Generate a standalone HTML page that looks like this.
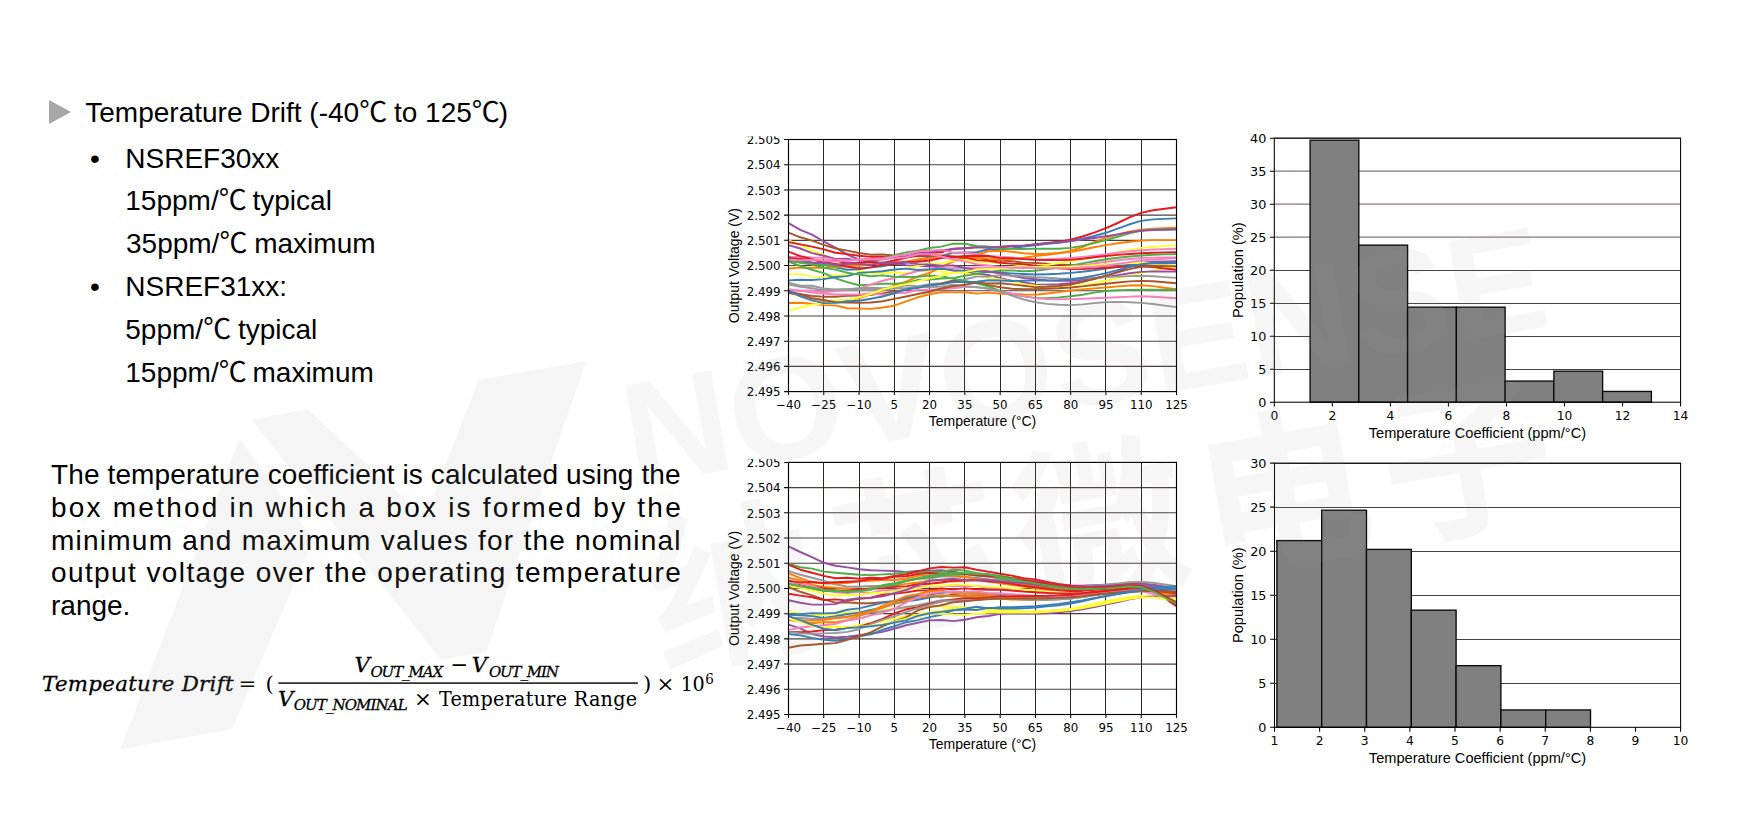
<!DOCTYPE html>
<html lang="en">
<head>
<meta charset="utf-8">
<title>Temperature Drift</title>
<style>
html,body{margin:0;padding:0;background:#fff;}
body{width:1745px;height:826px;position:relative;overflow:hidden;font-family:"Liberation Sans","Noto Sans CJK SC",sans-serif;color:#000;}
.abs{position:absolute;white-space:nowrap;}
.t20{font-size:28px;line-height:32px;}
svg{position:absolute;left:0;top:0;overflow:hidden;}
.tk{font-family:"DejaVu Sans",sans-serif;fill:#000;}
.ax{font-family:"Liberation Sans",sans-serif;fill:#000;}
.m{font-family:"DejaVu Serif","Liberation Serif",serif;fill:#000;}
.mc{font-family:"DejaVu Serif Condensed","DejaVu Serif","Liberation Serif",serif;font-stretch:condensed;fill:#000;}
.mi{font-family:"DejaVu Serif","Liberation Serif",serif;font-style:italic;fill:#000;stroke:#000;stroke-width:0.3px;}
</style>
</head>
<body>

<div class="abs" style="left:49px;top:100px;width:0;height:0;border-left:22.5px solid #a6a6a6;border-top:12.6px solid transparent;border-bottom:12.6px solid transparent;"></div>
<div class="abs t20" style="left:85.3px;top:97.00px;">Temperature Drift (-40<span style="letter-spacing:-1px">℃</span> to 125<span style="letter-spacing:-1px">℃</span>)</div>
<div class="abs t20" style="left:90px;top:143.00px;">•</div>
<div class="abs t20" style="left:125.3px;top:143.00px;">NSREF30xx</div>
<div class="abs t20" style="left:125.3px;top:185.00px;">15ppm/<span style="letter-spacing:-2px">℃</span> typical</div>
<div class="abs t20" style="left:126px;top:228.00px;">35ppm/<span style="letter-spacing:-1px">℃</span> maximum</div>
<div class="abs t20" style="left:90px;top:271.00px;">•</div>
<div class="abs t20" style="left:125.3px;top:271.00px;">NSREF31xx:</div>
<div class="abs t20" style="left:125.3px;top:314.00px;">5ppm/<span style="letter-spacing:-1px">℃</span> typical</div>
<div class="abs t20" style="left:125.3px;top:357.00px;">15ppm/<span style="letter-spacing:-2px">℃</span> maximum</div>
<div class="abs t20" style="left:51px;top:459.00px;letter-spacing:0.12px;">The temperature coefficient is calculated using the</div>
<div class="abs t20" style="left:51px;top:492.00px;letter-spacing:2.225px;">box method in which a box is formed by the</div>
<div class="abs t20" style="left:51px;top:525.00px;letter-spacing:1.235px;">minimum and maximum values for the nominal</div>
<div class="abs t20" style="left:51px;top:557.00px;letter-spacing:1.4px;">output voltage over the operating temperature</div>
<div class="abs t20" style="left:51px;top:590.00px;">range.</div>
<svg width="1745" height="826" viewBox="0 0 1745 826">
<text class="mi" x="42.0" y="690.5" font-size="21.3" textLength="191.5" lengthAdjust="spacing">Tempeature Drift</text>
<text class="m" x="238.5" y="690.5" font-size="21.3">=</text>
<text class="m" x="265.6" y="690.5" font-size="21.3">(</text>
<rect x="278.3" y="682.4" width="359.6" height="1.4" fill="#000"/>
<text class="mi" x="354.6" y="672.3" font-size="21.3">V</text>
<text class="mi" x="370.4" y="676.6" font-size="15.0" textLength="72.7" lengthAdjust="spacing">OUT_MAX</text>
<text class="m" x="450.5" y="672.3" font-size="21.3">−</text>
<text class="mi" x="471.8" y="672.3" font-size="21.3">V</text>
<text class="mi" x="488.9" y="676.6" font-size="15.0" textLength="70" lengthAdjust="spacing">OUT_MIN</text>
<text class="mi" x="277.9" y="706" font-size="21.3">V</text>
<text class="mi" x="293.7" y="710.3" font-size="15.0" textLength="113.9" lengthAdjust="spacing">OUT_NOMINAL</text>
<text class="m" x="414.0" y="706" font-size="21.3">×</text>
<text class="mc" x="439.1" y="706" font-size="21.3" textLength="198" lengthAdjust="spacing">Temperature Range</text>
<text class="m" x="642.9" y="690.5" font-size="21.3">)</text>
<text class="m" x="656.5" y="690.5" font-size="21.3">×</text>
<text class="mc" x="680.8" y="690.5" font-size="21.3" textLength="24" lengthAdjust="spacing">10</text>
<text class="mc" x="705.3" y="684.3" font-size="15.0">6</text>
</svg>
<svg width="1745" height="826" viewBox="0 0 1745 826">
<defs>
<clipPath id="top1"><rect x="700" y="136.3" width="1045" height="320"/></clipPath>
<clipPath id="top2"><rect x="700" y="459.1" width="1045" height="340"/></clipPath>
<clipPath id="clip1"><rect x="788.5" y="139.6" width="388.1" height="252.1"/></clipPath>
<clipPath id="clip2"><rect x="788.5" y="462.3" width="388.1" height="252.2"/></clipPath>
</defs>
<g clip-path="url(#top1)">
<path d="M788.50 164.71H1176.50M788.50 189.92H1176.50M788.50 215.13H1176.50M788.50 240.34H1176.50M788.50 265.55H1176.50M788.50 290.76H1176.50M788.50 315.97H1176.50M788.50 341.18H1176.50M788.50 366.39H1176.50" stroke="#4a403e" stroke-width="1.1" fill="none"/>
<path d="M823.50 139.50V391.60M859.50 139.50V391.60M894.50 139.50V391.60M929.50 139.50V391.60M964.50 139.50V391.60M1000.50 139.50V391.60M1035.50 139.50V391.60M1070.50 139.50V391.60M1105.50 139.50V391.60M1141.50 139.50V391.60" stroke="#2e2725" stroke-width="1" fill="none"/>
<g fill="none" stroke-width="1.95" stroke-linejoin="round" stroke-linecap="butt" clip-path="url(#clip1)">
<polyline points="788.5,223.1 800.3,229.8 812.0,234.7 823.8,241.5 835.5,247.6 847.3,254.6 859.0,259.6 870.8,261.6 882.6,263.4 894.3,263.1 906.1,265.1 917.8,266.0 929.6,266.4 941.3,267.2 953.1,270.7 964.9,272.1 976.6,273.6 988.4,275.0 1000.1,278.1 1011.9,280.6 1023.7,282.2 1035.4,284.4 1047.2,284.6 1058.9,284.3 1070.7,283.2 1082.4,281.4 1094.2,279.0 1106.0,275.9 1117.7,271.6 1129.5,266.7 1141.2,263.0 1153.0,261.6 1164.7,261.4 1176.5,261.3" stroke="#984ea3"/>
<polyline points="788.5,232.7 800.3,237.3 812.0,240.6 823.8,244.9 835.5,248.5 847.3,250.6 859.0,253.0 870.8,254.8 882.6,254.5 894.3,255.5 906.1,256.7 917.8,256.1 929.6,256.5 941.3,255.8 953.1,256.3 964.9,257.4 976.6,257.1 988.4,260.2 1000.1,260.5 1011.9,261.2 1023.7,262.6 1035.4,263.0 1047.2,263.8 1058.9,264.5 1070.7,265.0 1082.4,265.3 1094.2,265.5 1106.0,265.6 1117.7,265.6 1129.5,265.5 1141.2,265.6 1153.0,265.7 1164.7,266.0 1176.5,266.3" stroke="#a65628"/>
<polyline points="788.5,240.4 800.3,244.8 812.0,251.0 823.8,254.8 835.5,260.4 847.3,265.6 859.0,270.8 870.8,273.3 882.6,273.2 894.3,272.5 906.1,273.1 917.8,271.1 929.6,270.9 941.3,271.8 953.1,272.8 964.9,272.9 976.6,275.8 988.4,277.7 1000.1,279.5 1011.9,281.3 1023.7,284.4 1035.4,285.7 1047.2,286.8 1058.9,287.3 1070.7,287.0 1082.4,285.5 1094.2,283.2 1106.0,280.7 1117.7,278.2 1129.5,275.7 1141.2,273.1 1153.0,270.6 1164.7,268.1 1176.5,265.6" stroke="#ffff33"/>
<polyline points="788.5,242.1 800.3,244.4 812.0,246.6 823.8,249.4 835.5,252.7 847.3,254.1 859.0,255.8 870.8,256.9 882.6,256.9 894.3,257.8 906.1,256.8 917.8,254.6 929.6,252.8 941.3,252.3 953.1,248.8 964.9,248.2 976.6,247.0 988.4,246.9 1000.1,247.2 1011.9,246.4 1023.7,245.7 1035.4,244.1 1047.2,243.0 1058.9,241.7 1070.7,239.6 1082.4,236.5 1094.2,232.6 1106.0,228.2 1117.7,223.0 1129.5,217.4 1141.2,212.9 1153.0,210.3 1164.7,208.8 1176.5,207.3" stroke="#e41a1c"/>
<polyline points="788.5,256.4 800.3,260.1 812.0,262.6 823.8,264.7 835.5,267.2 847.3,269.7 859.0,269.3 870.8,267.4 882.6,266.3 894.3,263.8 906.1,262.5 917.8,260.2 929.6,257.4 941.3,255.9 953.1,252.9 964.9,252.5 976.6,252.2 988.4,249.3 1000.1,249.4 1011.9,248.4 1023.7,246.6 1035.4,245.3 1047.2,243.9 1058.9,242.7 1070.7,241.1 1082.4,238.8 1094.2,236.0 1106.0,232.8 1117.7,228.7 1129.5,224.3 1141.2,220.9 1153.0,219.4 1164.7,218.9 1176.5,218.4" stroke="#377eb8"/>
<polyline points="788.5,268.5 800.3,267.5 812.0,267.7 823.8,267.8 835.5,266.7 847.3,266.0 859.0,265.8 870.8,264.3 882.6,263.4 894.3,262.2 906.1,261.4 917.8,259.5 929.6,258.2 941.3,257.2 953.1,256.7 964.9,258.0 976.6,257.7 988.4,258.4 1000.1,259.6 1011.9,259.1 1023.7,257.8 1035.4,256.1 1047.2,254.7 1058.9,253.3 1070.7,250.9 1082.4,247.0 1094.2,242.1 1106.0,237.8 1117.7,234.5 1129.5,231.8 1141.2,229.8 1153.0,228.6 1164.7,228.2 1176.5,227.7" stroke="#ff7f00"/>
<polyline points="788.5,258.5 800.3,261.3 812.0,264.4 823.8,265.0 835.5,266.0 847.3,264.4 859.0,263.4 870.8,261.8 882.6,258.9 894.3,255.3 906.1,252.4 917.8,250.8 929.6,248.0 941.3,246.6 953.1,243.6 964.9,243.8 976.6,246.0 988.4,246.4 1000.1,248.5 1011.9,248.9 1023.7,249.0 1035.4,248.6 1047.2,248.7 1058.9,248.7 1070.7,247.9 1082.4,245.9 1094.2,243.1 1106.0,240.1 1117.7,236.7 1129.5,233.2 1141.2,230.5 1153.0,229.4 1164.7,229.2 1176.5,229.0" stroke="#4daf4a"/>
<polyline points="788.5,245.1 800.3,248.5 812.0,253.1 823.8,255.8 835.5,258.9 847.3,258.7 859.0,260.6 870.8,260.4 882.6,259.2 894.3,257.6 906.1,256.4 917.8,253.2 929.6,252.2 941.3,250.5 953.1,249.0 964.9,248.3 976.6,247.4 988.4,247.7 1000.1,246.8 1011.9,245.7 1023.7,245.6 1035.4,244.4 1047.2,243.4 1058.9,242.3 1070.7,241.1 1082.4,239.6 1094.2,238.0 1106.0,236.3 1117.7,234.4 1129.5,232.3 1141.2,230.8 1153.0,230.0 1164.7,229.8 1176.5,229.5" stroke="#984ea3"/>
<polyline points="788.5,293.0 800.3,295.4 812.0,298.1 823.8,300.9 835.5,300.9 847.3,300.3 859.0,298.3 870.8,294.4 882.6,290.4 894.3,285.7 906.1,281.7 917.8,276.5 929.6,272.9 941.3,267.1 953.1,261.5 964.9,258.2 976.6,254.5 988.4,251.2 1000.1,250.8 1011.9,251.8 1023.7,253.3 1035.4,254.0 1047.2,253.7 1058.9,253.0 1070.7,251.7 1082.4,249.7 1094.2,247.3 1106.0,245.1 1117.7,243.3 1129.5,241.7 1141.2,240.6 1153.0,240.1 1164.7,240.1 1176.5,240.1" stroke="#ff7f00"/>
<polyline points="788.5,274.1 800.3,274.1 812.0,276.6 823.8,276.9 835.5,275.3 847.3,274.4 859.0,274.2 870.8,272.7 882.6,271.1 894.3,269.7 906.1,268.4 917.8,266.0 929.6,263.6 941.3,263.3 953.1,260.8 964.9,260.3 976.6,261.8 988.4,262.3 1000.1,263.0 1011.9,264.1 1023.7,265.7 1035.4,265.4 1047.2,264.7 1058.9,263.1 1070.7,261.3 1082.4,259.3 1094.2,257.0 1106.0,254.7 1117.7,252.3 1129.5,249.9 1141.2,247.9 1153.0,246.7 1164.7,246.1 1176.5,245.4" stroke="#ffff33"/>
<polyline points="788.5,257.5 800.3,256.5 812.0,257.5 823.8,257.8 835.5,259.7 847.3,260.7 859.0,259.8 870.8,259.6 882.6,259.2 894.3,256.3 906.1,254.2 917.8,251.3 929.6,250.8 941.3,249.8 953.1,252.7 964.9,252.6 976.6,254.3 988.4,255.9 1000.1,256.7 1011.9,257.4 1023.7,259.0 1035.4,259.4 1047.2,259.2 1058.9,258.7 1070.7,258.0 1082.4,256.9 1094.2,255.6 1106.0,254.2 1117.7,252.8 1129.5,251.3 1141.2,250.2 1153.0,249.5 1164.7,249.1 1176.5,248.7" stroke="#f781bf"/>
<polyline points="788.5,251.6 800.3,256.1 812.0,259.2 823.8,262.2 835.5,264.0 847.3,266.8 859.0,268.4 870.8,267.4 882.6,264.5 894.3,264.1 906.1,261.9 917.8,261.8 929.6,260.5 941.3,258.1 953.1,257.3 964.9,256.0 976.6,255.7 988.4,256.0 1000.1,258.1 1011.9,258.3 1023.7,259.1 1035.4,259.7 1047.2,260.0 1058.9,260.1 1070.7,259.8 1082.4,258.7 1094.2,257.3 1106.0,256.0 1117.7,254.9 1129.5,254.0 1141.2,253.2 1153.0,252.7 1164.7,252.5 1176.5,252.2" stroke="#e41a1c"/>
<polyline points="788.5,261.7 800.3,266.0 812.0,269.7 823.8,273.1 835.5,278.3 847.3,282.1 859.0,285.2 870.8,284.6 882.6,283.8 894.3,283.7 906.1,283.1 917.8,279.9 929.6,279.6 941.3,278.5 953.1,278.1 964.9,275.7 976.6,273.9 988.4,271.9 1000.1,270.7 1011.9,270.4 1023.7,271.3 1035.4,270.7 1047.2,269.3 1058.9,267.5 1070.7,265.6 1082.4,263.4 1094.2,261.2 1106.0,259.2 1117.7,257.7 1129.5,256.5 1141.2,255.5 1153.0,254.8 1164.7,254.4 1176.5,254.0" stroke="#4daf4a"/>
<polyline points="788.5,289.3 800.3,290.8 812.0,290.5 823.8,292.3 835.5,291.0 847.3,289.9 859.0,288.7 870.8,284.5 882.6,280.8 894.3,278.0 906.1,274.3 917.8,271.0 929.6,269.7 941.3,268.2 953.1,268.1 964.9,267.8 976.6,267.5 988.4,267.7 1000.1,268.5 1011.9,268.1 1023.7,268.1 1035.4,268.0 1047.2,267.8 1058.9,267.5 1070.7,266.8 1082.4,265.4 1094.2,263.5 1106.0,261.8 1117.7,260.3 1129.5,259.0 1141.2,258.0 1153.0,257.6 1164.7,257.5 1176.5,257.5" stroke="#f781bf"/>
<polyline points="788.5,280.4 800.3,279.8 812.0,280.0 823.8,279.1 835.5,277.0 847.3,276.1 859.0,272.9 870.8,272.1 882.6,271.2 894.3,269.5 906.1,268.6 917.8,270.0 929.6,269.4 941.3,268.7 953.1,270.1 964.9,270.7 976.6,271.3 988.4,271.7 1000.1,272.8 1011.9,273.4 1023.7,274.0 1035.4,274.5 1047.2,274.2 1058.9,273.7 1070.7,272.9 1082.4,271.7 1094.2,270.2 1106.0,268.6 1117.7,266.7 1129.5,264.8 1141.2,263.3 1153.0,262.6 1164.7,262.5 1176.5,262.3" stroke="#377eb8"/>
<polyline points="788.5,258.0 800.3,258.9 812.0,259.7 823.8,260.9 835.5,260.6 847.3,263.2 859.0,262.6 870.8,261.7 882.6,262.9 894.3,260.5 906.1,257.8 917.8,255.2 929.6,255.0 941.3,255.8 953.1,257.2 964.9,257.6 976.6,260.1 988.4,260.9 1000.1,262.7 1011.9,263.6 1023.7,264.1 1035.4,265.7 1047.2,266.9 1058.9,268.2 1070.7,269.1 1082.4,269.0 1094.2,268.4 1106.0,267.8 1117.7,267.1 1129.5,266.4 1141.2,266.3 1153.0,267.1 1164.7,268.5 1176.5,269.8" stroke="#e41a1c"/>
<polyline points="788.5,261.3 800.3,262.1 812.0,262.8 823.8,262.7 835.5,264.7 847.3,263.5 859.0,264.0 870.8,264.8 882.6,262.4 894.3,262.8 906.1,262.3 917.8,264.1 929.6,264.4 941.3,265.6 953.1,265.5 964.9,268.0 976.6,269.9 988.4,271.5 1000.1,273.2 1011.9,275.8 1023.7,278.0 1035.4,279.3 1047.2,280.4 1058.9,280.8 1070.7,280.7 1082.4,279.8 1094.2,278.4 1106.0,276.9 1117.7,275.1 1129.5,273.2 1141.2,271.9 1153.0,271.4 1164.7,271.5 1176.5,271.6" stroke="#984ea3"/>
<polyline points="788.5,284.6 800.3,286.8 812.0,288.3 823.8,290.4 835.5,289.4 847.3,289.3 859.0,288.3 870.8,287.8 882.6,288.3 894.3,287.6 906.1,285.4 917.8,286.3 929.6,284.2 941.3,283.1 953.1,281.5 964.9,279.2 976.6,276.6 988.4,276.6 1000.1,275.1 1011.9,275.6 1023.7,276.2 1035.4,277.2 1047.2,277.8 1058.9,278.4 1070.7,278.7 1082.4,278.4 1094.2,277.7 1106.0,277.1 1117.7,276.6 1129.5,276.1 1141.2,275.9 1153.0,276.3 1164.7,277.1 1176.5,277.9" stroke="#999999"/>
<polyline points="788.5,291.7 800.3,294.3 812.0,295.9 823.8,296.8 835.5,296.7 847.3,295.7 859.0,295.6 870.8,294.9 882.6,293.4 894.3,291.5 906.1,289.7 917.8,287.4 929.6,285.4 941.3,283.6 953.1,280.5 964.9,281.5 976.6,282.7 988.4,285.1 1000.1,287.3 1011.9,288.7 1023.7,289.1 1035.4,289.1 1047.2,288.8 1058.9,288.3 1070.7,287.5 1082.4,286.4 1094.2,285.0 1106.0,283.7 1117.7,282.5 1129.5,281.4 1141.2,280.9 1153.0,281.3 1164.7,282.3 1176.5,283.2" stroke="#a65628"/>
<polyline points="788.5,303.0 800.3,302.7 812.0,303.8 823.8,305.1 835.5,305.4 847.3,308.2 859.0,308.5 870.8,308.9 882.6,307.5 894.3,305.7 906.1,301.4 917.8,297.3 929.6,294.2 941.3,292.2 953.1,292.4 964.9,292.2 976.6,293.6 988.4,292.6 1000.1,293.9 1011.9,293.8 1023.7,294.5 1035.4,294.6 1047.2,293.5 1058.9,292.0 1070.7,290.5 1082.4,289.4 1094.2,288.4 1106.0,287.5 1117.7,286.4 1129.5,285.5 1141.2,285.2 1153.0,286.1 1164.7,287.7 1176.5,289.2" stroke="#ff7f00"/>
<polyline points="788.5,260.2 800.3,262.8 812.0,264.5 823.8,267.9 835.5,269.6 847.3,272.7 859.0,274.6 870.8,276.2 882.6,275.4 894.3,276.7 906.1,277.0 917.8,276.8 929.6,275.6 941.3,276.3 953.1,278.6 964.9,280.9 976.6,283.4 988.4,286.5 1000.1,290.9 1011.9,294.1 1023.7,296.4 1035.4,297.9 1047.2,298.1 1058.9,297.4 1070.7,296.3 1082.4,294.7 1094.2,292.6 1106.0,291.0 1117.7,290.2 1129.5,289.9 1141.2,289.8 1153.0,289.7 1164.7,289.7 1176.5,289.8" stroke="#4daf4a"/>
<polyline points="788.5,290.9 800.3,290.6 812.0,292.5 823.8,293.6 835.5,294.5 847.3,294.5 859.0,294.4 870.8,293.4 882.6,294.8 894.3,293.4 906.1,292.8 917.8,289.7 929.6,289.8 941.3,289.3 953.1,288.2 964.9,287.1 976.6,287.1 988.4,288.9 1000.1,291.7 1011.9,293.5 1023.7,296.1 1035.4,298.4 1047.2,299.1 1058.9,299.2 1070.7,299.1 1082.4,298.8 1094.2,298.3 1106.0,297.8 1117.7,297.2 1129.5,296.6 1141.2,296.3 1153.0,296.7 1164.7,297.5 1176.5,298.3" stroke="#f781bf"/>
<polyline points="788.5,282.8 800.3,285.8 812.0,285.7 823.8,288.5 835.5,289.6 847.3,289.3 859.0,290.0 870.8,290.0 882.6,290.0 894.3,288.3 906.1,288.1 917.8,286.4 929.6,287.3 941.3,286.6 953.1,284.7 964.9,286.1 976.6,287.2 988.4,288.5 1000.1,291.7 1011.9,295.6 1023.7,299.5 1035.4,302.3 1047.2,303.9 1058.9,304.8 1070.7,305.1 1082.4,304.4 1094.2,303.1 1106.0,302.1 1117.7,301.9 1129.5,302.2 1141.2,302.9 1153.0,304.0 1164.7,305.6 1176.5,307.1" stroke="#999999"/>
<polyline points="788.5,310.9 800.3,307.5 812.0,304.7 823.8,303.2 835.5,300.3 847.3,300.5 859.0,297.3 870.8,294.0 882.6,289.4 894.3,286.6 906.1,284.1 917.8,281.4 929.6,278.2 941.3,275.8 953.1,272.7 964.9,272.1 976.6,269.8 988.4,268.9 1000.1,268.4 1011.9,267.5 1023.7,267.1 1035.4,266.9 1047.2,266.8 1058.9,266.9 1070.7,266.8 1082.4,266.1 1094.2,265.1 1106.0,264.3 1117.7,263.6 1129.5,263.1 1141.2,263.0 1153.0,263.6 1164.7,264.6 1176.5,265.6" stroke="#ffff33"/>
<polyline points="788.5,292.7 800.3,294.2 812.0,298.2 823.8,300.0 835.5,302.2 847.3,302.6 859.0,302.9 870.8,302.5 882.6,301.3 894.3,298.9 906.1,296.5 917.8,294.0 929.6,291.8 941.3,288.5 953.1,286.2 964.9,284.8 976.6,282.6 988.4,283.5 1000.1,283.2 1011.9,284.4 1023.7,285.8 1035.4,287.1 1047.2,286.8 1058.9,286.0 1070.7,284.5 1082.4,282.0 1094.2,278.8 1106.0,275.6 1117.7,272.4 1129.5,269.1 1141.2,266.8 1153.0,266.0 1164.7,266.2 1176.5,266.3" stroke="#a65628"/>
<polyline points="788.5,290.3 800.3,296.4 812.0,300.4 823.8,303.1 835.5,302.9 847.3,301.3 859.0,300.8 870.8,298.7 882.6,296.5 894.3,293.3 906.1,289.4 917.8,287.7 929.6,285.3 941.3,284.4 953.1,282.0 964.9,282.0 976.6,281.8 988.4,280.3 1000.1,280.5 1011.9,281.0 1023.7,280.6 1035.4,280.6 1047.2,280.5 1058.9,280.3 1070.7,279.4 1082.4,277.8 1094.2,275.6 1106.0,273.1 1117.7,270.1 1129.5,266.8 1141.2,264.3 1153.0,263.3 1164.7,263.2 1176.5,263.0" stroke="#377eb8"/>
<polyline points="788.5,259.4 800.3,260.4 812.0,259.6 823.8,260.5 835.5,261.3 847.3,260.7 859.0,259.3 870.8,258.8 882.6,258.3 894.3,258.4 906.1,257.3 917.8,254.3 929.6,254.3 941.3,256.5 953.1,259.5 964.9,261.4 976.6,264.2 988.4,265.4 1000.1,266.9 1011.9,267.6 1023.7,267.5 1035.4,267.9 1047.2,268.3 1058.9,268.3 1070.7,268.1 1082.4,267.5 1094.2,266.7 1106.0,265.6 1117.7,264.0 1129.5,262.1 1141.2,260.5 1153.0,259.5 1164.7,258.7 1176.5,258.0" stroke="#f781bf"/>
</g>
<rect x="788.50" y="139.50" width="388.00" height="252.10" fill="none" stroke="#000" stroke-width="1.15"/>
<path d="M788.50 391.60v3.4M823.77 391.60v3.4M859.05 391.60v3.4M894.32 391.60v3.4M929.59 391.60v3.4M964.86 391.60v3.4M1000.14 391.60v3.4M1035.41 391.60v3.4M1070.68 391.60v3.4M1105.95 391.60v3.4M1141.23 391.60v3.4M1176.50 391.60v3.4M788.50 139.50h-4.4M788.50 164.71h-4.4M788.50 189.92h-4.4M788.50 215.13h-4.4M788.50 240.34h-4.4M788.50 265.55h-4.4M788.50 290.76h-4.4M788.50 315.97h-4.4M788.50 341.18h-4.4M788.50 366.39h-4.4M788.50 391.60h-4.4" stroke="#000" stroke-width="1.05" fill="none"/>
<text class="tk" x="780.6" y="144.2" font-size="11.85" text-anchor="end">2.505</text>
<text class="tk" x="780.6" y="169.4" font-size="11.85" text-anchor="end">2.504</text>
<text class="tk" x="780.6" y="194.6" font-size="11.85" text-anchor="end">2.503</text>
<text class="tk" x="780.6" y="219.8" font-size="11.85" text-anchor="end">2.502</text>
<text class="tk" x="780.6" y="245.0" font-size="11.85" text-anchor="end">2.501</text>
<text class="tk" x="780.6" y="270.2" font-size="11.85" text-anchor="end">2.500</text>
<text class="tk" x="780.6" y="295.5" font-size="11.85" text-anchor="end">2.499</text>
<text class="tk" x="780.6" y="320.7" font-size="11.85" text-anchor="end">2.498</text>
<text class="tk" x="780.6" y="345.9" font-size="11.85" text-anchor="end">2.497</text>
<text class="tk" x="780.6" y="371.1" font-size="11.85" text-anchor="end">2.496</text>
<text class="tk" x="780.6" y="396.3" font-size="11.85" text-anchor="end">2.495</text>
<text class="tk" x="788.5" y="408.6" font-size="11.85" text-anchor="middle">−40</text>
<text class="tk" x="823.8" y="408.6" font-size="11.85" text-anchor="middle">−25</text>
<text class="tk" x="859.0" y="408.6" font-size="11.85" text-anchor="middle">−10</text>
<text class="tk" x="894.3" y="408.6" font-size="11.85" text-anchor="middle">5</text>
<text class="tk" x="929.6" y="408.6" font-size="11.85" text-anchor="middle">20</text>
<text class="tk" x="964.9" y="408.6" font-size="11.85" text-anchor="middle">35</text>
<text class="tk" x="1000.1" y="408.6" font-size="11.85" text-anchor="middle">50</text>
<text class="tk" x="1035.4" y="408.6" font-size="11.85" text-anchor="middle">65</text>
<text class="tk" x="1070.7" y="408.6" font-size="11.85" text-anchor="middle">80</text>
<text class="tk" x="1106.0" y="408.6" font-size="11.85" text-anchor="middle">95</text>
<text class="tk" x="1141.2" y="408.6" font-size="11.85" text-anchor="middle">110</text>
<text class="tk" x="1176.5" y="408.6" font-size="11.85" text-anchor="middle">125</text>
<text class="ax" x="982.5" y="425.8" font-size="14.0" text-anchor="middle">Temperature (°C)</text>
<text class="ax" transform="translate(739.4,265.6) rotate(-90)" font-size="14.0" text-anchor="middle">Output Voltage (V)</text>
</g>
<g clip-path="url(#top2)">
<path d="M788.50 487.61H1176.50M788.50 512.82H1176.50M788.50 538.03H1176.50M788.50 563.24H1176.50M788.50 588.45H1176.50M788.50 613.66H1176.50M788.50 638.87H1176.50M788.50 664.08H1176.50M788.50 689.29H1176.50" stroke="#4a403e" stroke-width="1.1" fill="none"/>
<path d="M823.50 462.40V714.50M859.50 462.40V714.50M894.50 462.40V714.50M929.50 462.40V714.50M964.50 462.40V714.50M1000.50 462.40V714.50M1035.50 462.40V714.50M1070.50 462.40V714.50M1105.50 462.40V714.50M1141.50 462.40V714.50" stroke="#2e2725" stroke-width="1" fill="none"/>
<g fill="none" stroke-width="1.95" stroke-linejoin="round" stroke-linecap="butt" clip-path="url(#clip2)">
<polyline points="788.5,546.4 800.3,552.0 812.0,557.1 823.8,562.8 835.5,565.7 847.3,567.4 859.0,569.3 870.8,570.2 882.6,570.6 894.3,571.0 906.1,572.0 917.8,570.9 929.6,570.7 941.3,570.3 953.1,571.7 964.9,573.7 976.6,573.4 988.4,574.8 1000.1,577.0 1011.9,578.2 1023.7,579.9 1035.4,581.1 1047.2,582.5 1058.9,584.3 1070.7,585.4 1082.4,585.6 1094.2,585.2 1106.0,584.7 1117.7,584.1 1129.5,583.4 1141.2,583.4 1153.0,584.6 1164.7,586.5 1176.5,588.5" stroke="#984ea3"/>
<polyline points="788.5,563.8 800.3,567.2 812.0,568.6 823.8,571.6 835.5,572.7 847.3,573.8 859.0,574.8 870.8,575.1 882.6,574.4 894.3,573.7 906.1,572.3 917.8,572.7 929.6,571.7 941.3,571.7 953.1,569.7 964.9,570.5 976.6,573.1 988.4,574.5 1000.1,575.7 1011.9,577.9 1023.7,579.6 1035.4,582.2 1047.2,584.2 1058.9,586.0 1070.7,587.2 1082.4,587.2 1094.2,586.6 1106.0,585.9 1117.7,584.7 1129.5,583.5 1141.2,584.7 1153.0,589.8 1164.7,597.3 1176.5,604.8" stroke="#4daf4a"/>
<polyline points="788.5,564.7 800.3,569.7 812.0,572.7 823.8,575.9 835.5,578.2 847.3,577.7 859.0,578.7 870.8,577.7 882.6,578.1 894.3,575.9 906.1,574.3 917.8,571.4 929.6,568.4 941.3,567.0 953.1,567.6 964.9,567.2 976.6,569.7 988.4,571.7 1000.1,573.7 1011.9,575.6 1023.7,578.1 1035.4,579.4 1047.2,581.9 1058.9,584.3 1070.7,585.9 1082.4,586.4 1094.2,586.3 1106.0,585.9 1117.7,584.8 1129.5,583.5 1141.2,584.7 1153.0,590.1 1164.7,598.1 1176.5,606.1" stroke="#e41a1c"/>
<polyline points="788.5,571.1 800.3,574.8 812.0,577.8 823.8,580.6 835.5,584.3 847.3,586.7 859.0,586.8 870.8,586.0 882.6,585.7 894.3,583.7 906.1,581.1 917.8,578.8 929.6,578.6 941.3,576.5 953.1,576.2 964.9,577.0 976.6,577.8 988.4,579.5 1000.1,579.8 1011.9,580.3 1023.7,582.4 1035.4,583.3 1047.2,584.9 1058.9,586.4 1070.7,587.2 1082.4,586.8 1094.2,585.8 1106.0,584.7 1117.7,583.5 1129.5,582.3 1141.2,581.9 1153.0,582.8 1164.7,584.5 1176.5,586.2" stroke="#999999"/>
<polyline points="788.5,573.4 800.3,578.1 812.0,582.2 823.8,583.6 835.5,583.5 847.3,583.1 859.0,581.2 870.8,580.8 882.6,580.0 894.3,580.0 906.1,578.7 917.8,575.9 929.6,575.4 941.3,575.4 953.1,575.9 964.9,577.0 976.6,578.9 988.4,580.5 1000.1,581.1 1011.9,582.1 1023.7,584.1 1035.4,585.7 1047.2,587.5 1058.9,588.9 1070.7,589.7 1082.4,589.7 1094.2,589.1 1106.0,588.5 1117.7,587.7 1129.5,587.0 1141.2,587.2 1153.0,588.7 1164.7,591.1 1176.5,593.5" stroke="#ff7f00"/>
<polyline points="788.5,577.8 800.3,580.4 812.0,585.0 823.8,587.0 835.5,587.8 847.3,588.7 859.0,589.8 870.8,588.3 882.6,586.7 894.3,585.9 906.1,583.9 917.8,582.5 929.6,580.8 941.3,580.2 953.1,581.5 964.9,580.8 976.6,580.3 988.4,581.4 1000.1,583.3 1011.9,585.1 1023.7,586.6 1035.4,588.4 1047.2,589.7 1058.9,590.6 1070.7,591.0 1082.4,590.4 1094.2,589.3 1106.0,588.5 1117.7,588.0 1129.5,587.8 1141.2,588.5 1153.0,590.4 1164.7,593.2 1176.5,596.0" stroke="#ff7f00"/>
<polyline points="788.5,580.6 800.3,584.4 812.0,586.7 823.8,588.3 835.5,590.2 847.3,590.6 859.0,589.3 870.8,588.8 882.6,588.4 894.3,586.8 906.1,586.4 917.8,584.2 929.6,583.7 941.3,582.5 953.1,580.7 964.9,580.5 976.6,580.0 988.4,581.6 1000.1,582.1 1011.9,583.8 1023.7,585.8 1035.4,587.2 1047.2,588.7 1058.9,590.1 1070.7,591.0 1082.4,590.9 1094.2,590.3 1106.0,589.7 1117.7,589.1 1129.5,588.5 1141.2,588.5 1153.0,589.3 1164.7,590.8 1176.5,592.2" stroke="#e41a1c"/>
<polyline points="788.5,581.3 800.3,583.5 812.0,586.2 823.8,589.8 835.5,592.2 847.3,593.1 859.0,591.9 870.8,592.9 882.6,590.4 894.3,589.6 906.1,588.8 917.8,586.3 929.6,586.4 941.3,586.4 953.1,585.7 964.9,586.4 976.6,585.8 988.4,588.0 1000.1,588.6 1011.9,590.2 1023.7,591.0 1035.4,592.3 1047.2,593.0 1058.9,593.4 1070.7,593.5 1082.4,592.8 1094.2,591.8 1106.0,591.0 1117.7,590.4 1129.5,590.1 1141.2,591.0 1153.0,593.6 1164.7,597.3 1176.5,601.1" stroke="#f781bf"/>
<polyline points="788.5,584.9 800.3,587.4 812.0,588.9 823.8,591.0 835.5,591.4 847.3,591.1 859.0,591.1 870.8,588.7 882.6,586.2 894.3,585.0 906.1,581.1 917.8,578.8 929.6,577.4 941.3,575.8 953.1,574.5 964.9,574.2 976.6,575.6 988.4,576.5 1000.1,578.2 1011.9,580.1 1023.7,582.2 1035.4,584.7 1047.2,586.3 1058.9,587.7 1070.7,588.5 1082.4,588.4 1094.2,587.8 1106.0,587.2 1117.7,586.4 1129.5,585.6 1141.2,585.9 1153.0,588.1 1164.7,591.4 1176.5,594.8" stroke="#4daf4a"/>
<polyline points="788.5,586.3 800.3,587.9 812.0,590.7 823.8,593.6 835.5,595.5 847.3,595.1 859.0,594.7 870.8,593.3 882.6,592.5 894.3,591.4 906.1,588.5 917.8,588.4 929.6,585.7 941.3,585.8 953.1,585.0 964.9,584.4 976.6,586.0 988.4,586.9 1000.1,587.2 1011.9,588.2 1023.7,589.4 1035.4,590.9 1047.2,592.1 1058.9,593.1 1070.7,593.5 1082.4,593.0 1094.2,591.9 1106.0,591.0 1117.7,590.1 1129.5,589.3 1141.2,589.7 1153.0,591.9 1164.7,595.2 1176.5,598.5" stroke="#ffff33"/>
<polyline points="788.5,587.1 800.3,591.8 812.0,595.4 823.8,599.4 835.5,602.6 847.3,602.3 859.0,603.2 870.8,603.2 882.6,602.1 894.3,601.3 906.1,599.3 917.8,597.4 929.6,595.9 941.3,596.7 953.1,594.7 964.9,596.0 976.6,596.6 988.4,596.1 1000.1,597.2 1011.9,597.8 1023.7,598.1 1035.4,598.7 1047.2,598.4 1058.9,598.0 1070.7,597.3 1082.4,596.2 1094.2,594.8 1106.0,593.5 1117.7,592.4 1129.5,591.4 1141.2,591.0 1153.0,591.4 1164.7,592.5 1176.5,593.5" stroke="#a65628"/>
<polyline points="788.5,593.8 800.3,595.6 812.0,597.3 823.8,600.1 835.5,599.4 847.3,600.6 859.0,598.8 870.8,597.7 882.6,594.8 894.3,593.7 906.1,592.4 917.8,590.5 929.6,590.1 941.3,588.5 953.1,589.4 964.9,588.4 976.6,589.2 988.4,589.8 1000.1,589.7 1011.9,590.6 1023.7,591.6 1035.4,592.3 1047.2,592.9 1058.9,593.4 1070.7,593.5 1082.4,592.9 1094.2,591.9 1106.0,591.0 1117.7,590.4 1129.5,589.9 1141.2,589.7 1153.0,589.9 1164.7,590.5 1176.5,591.0" stroke="#e41a1c"/>
<polyline points="788.5,600.2 800.3,602.8 812.0,604.6 823.8,604.5 835.5,604.1 847.3,599.8 859.0,598.2 870.8,597.9 882.6,596.3 894.3,593.3 906.1,590.0 917.8,585.4 929.6,580.6 941.3,579.7 953.1,578.8 964.9,580.0 976.6,580.0 988.4,579.8 1000.1,581.1 1011.9,582.3 1023.7,583.2 1035.4,584.5 1047.2,585.7 1058.9,586.7 1070.7,587.2 1082.4,587.0 1094.2,586.5 1106.0,585.9 1117.7,585.2 1129.5,584.5 1141.2,584.7 1153.0,586.2 1164.7,588.6 1176.5,591.0" stroke="#984ea3"/>
<polyline points="788.5,611.1 800.3,613.4 812.0,614.8 823.8,615.2 835.5,613.8 847.3,612.5 859.0,612.0 870.8,612.1 882.6,610.8 894.3,608.2 906.1,607.6 917.8,606.0 929.6,606.3 941.3,606.3 953.1,606.7 964.9,607.4 976.6,607.9 988.4,610.2 1000.1,609.8 1011.9,610.2 1023.7,611.4 1035.4,611.2 1047.2,610.8 1058.9,610.0 1070.7,608.6 1082.4,606.4 1094.2,603.6 1106.0,601.1 1117.7,598.9 1129.5,596.9 1141.2,596.0 1153.0,596.6 1164.7,598.2 1176.5,599.8" stroke="#ffff33"/>
<polyline points="788.5,614.1 800.3,614.2 812.0,613.1 823.8,613.4 835.5,613.0 847.3,609.7 859.0,608.4 870.8,605.6 882.6,602.9 894.3,601.1 906.1,597.8 917.8,595.7 929.6,594.6 941.3,592.9 953.1,592.0 964.9,592.3 976.6,591.8 988.4,593.8 1000.1,593.6 1011.9,594.4 1023.7,595.8 1035.4,596.1 1047.2,596.3 1058.9,596.4 1070.7,596.0 1082.4,595.0 1094.2,593.5 1106.0,592.2 1117.7,591.3 1129.5,590.4 1141.2,589.7 1153.0,589.2 1164.7,588.8 1176.5,588.5" stroke="#377eb8"/>
<polyline points="788.5,614.7 800.3,615.4 812.0,616.1 823.8,617.9 835.5,616.2 847.3,614.1 859.0,612.6 870.8,609.9 882.6,607.5 894.3,603.9 906.1,601.4 917.8,599.8 929.6,597.5 941.3,595.5 953.1,595.9 964.9,596.0 976.6,595.2 988.4,596.6 1000.1,597.1 1011.9,597.6 1023.7,598.0 1035.4,598.7 1047.2,598.4 1058.9,598.0 1070.7,597.3 1082.4,596.2 1094.2,594.9 1106.0,593.5 1117.7,591.8 1129.5,589.9 1141.2,588.5 1153.0,587.7 1164.7,587.5 1176.5,587.2" stroke="#377eb8"/>
<polyline points="788.5,617.7 800.3,618.0 812.0,619.0 823.8,618.9 835.5,617.5 847.3,616.4 859.0,615.1 870.8,612.5 882.6,611.3 894.3,609.1 906.1,607.0 917.8,605.3 929.6,602.6 941.3,600.2 953.1,599.7 964.9,598.2 976.6,597.6 988.4,599.3 1000.1,598.3 1011.9,598.5 1023.7,599.9 1035.4,599.6 1047.2,599.7 1058.9,599.3 1070.7,598.5 1082.4,597.1 1094.2,595.2 1106.0,593.5 1117.7,592.0 1129.5,590.6 1141.2,589.7 1153.0,589.4 1164.7,589.6 1176.5,589.7" stroke="#999999"/>
<polyline points="788.5,617.6 800.3,621.0 812.0,624.8 823.8,626.7 835.5,626.7 847.3,627.0 859.0,625.1 870.8,622.9 882.6,621.1 894.3,618.9 906.1,616.3 917.8,614.5 929.6,612.1 941.3,610.6 953.1,608.2 964.9,608.2 976.6,608.5 988.4,610.8 1000.1,611.3 1011.9,611.4 1023.7,612.0 1035.4,612.3 1047.2,612.0 1058.9,611.2 1070.7,609.9 1082.4,607.7 1094.2,604.9 1106.0,602.3 1117.7,599.7 1129.5,597.2 1141.2,596.0 1153.0,596.9 1164.7,599.0 1176.5,601.1" stroke="#ffff33"/>
<polyline points="788.5,618.9 800.3,620.2 812.0,620.6 823.8,620.0 835.5,618.3 847.3,617.2 859.0,613.6 870.8,611.5 882.6,607.8 894.3,603.4 906.1,600.5 917.8,597.6 929.6,596.1 941.3,595.4 953.1,596.2 964.9,596.2 976.6,596.2 988.4,596.9 1000.1,598.7 1011.9,599.6 1023.7,599.4 1035.4,599.7 1047.2,599.3 1058.9,598.4 1070.7,597.3 1082.4,595.7 1094.2,593.8 1106.0,592.2 1117.7,590.9 1129.5,589.9 1141.2,589.7 1153.0,590.8 1164.7,592.8 1176.5,594.8" stroke="#ff7f00"/>
<polyline points="788.5,620.0 800.3,621.4 812.0,623.2 823.8,622.1 835.5,622.3 847.3,620.2 859.0,616.1 870.8,611.6 882.6,605.6 894.3,601.2 906.1,596.2 917.8,594.2 929.6,591.2 941.3,590.5 953.1,593.1 964.9,593.7 976.6,593.8 988.4,594.7 1000.1,596.1 1011.9,597.4 1023.7,598.1 1035.4,598.4 1047.2,598.5 1058.9,598.1 1070.7,597.3 1082.4,595.8 1094.2,593.9 1106.0,592.2 1117.7,590.9 1129.5,589.8 1141.2,589.7 1153.0,591.2 1164.7,593.6 1176.5,596.0" stroke="#ff7f00"/>
<polyline points="788.5,624.6 800.3,628.4 812.0,634.1 823.8,636.5 835.5,637.4 847.3,636.7 859.0,635.2 870.8,633.7 882.6,631.9 894.3,628.7 906.1,625.3 917.8,622.8 929.6,620.4 941.3,620.0 953.1,621.1 964.9,619.7 976.6,617.2 988.4,616.0 1000.1,613.9 1011.9,613.3 1023.7,613.6 1035.4,613.6 1047.2,613.2 1058.9,612.4 1070.7,611.1 1082.4,609.3 1094.2,607.0 1106.0,604.6 1117.7,602.0 1129.5,599.3 1141.2,597.3 1153.0,596.4 1164.7,596.2 1176.5,596.0" stroke="#984ea3"/>
<polyline points="788.5,629.9 800.3,627.5 812.0,626.3 823.8,625.2 835.5,623.8 847.3,620.5 859.0,618.7 870.8,615.2 882.6,612.7 894.3,608.8 906.1,602.4 917.8,597.3 929.6,593.5 941.3,591.9 953.1,591.5 964.9,592.0 976.6,591.5 988.4,593.1 1000.1,593.4 1011.9,594.2 1023.7,595.0 1035.4,595.9 1047.2,596.3 1058.9,596.4 1070.7,596.0 1082.4,594.9 1094.2,593.4 1106.0,592.2 1117.7,591.2 1129.5,590.4 1141.2,591.0 1153.0,593.8 1164.7,598.1 1176.5,602.3" stroke="#f781bf"/>
<polyline points="788.5,631.9 800.3,632.1 812.0,631.5 823.8,630.1 835.5,629.7 847.3,627.2 859.0,626.7 870.8,623.1 882.6,618.9 894.3,613.5 906.1,609.3 917.8,607.2 929.6,604.0 941.3,601.5 953.1,599.7 964.9,598.2 976.6,598.5 988.4,597.5 1000.1,596.1 1011.9,596.2 1023.7,596.3 1035.4,595.9 1047.2,595.8 1058.9,595.4 1070.7,594.8 1082.4,593.6 1094.2,592.2 1106.0,591.0 1117.7,589.8 1129.5,588.7 1141.2,588.5 1153.0,589.6 1164.7,591.5 1176.5,593.5" stroke="#e41a1c"/>
<polyline points="788.5,631.9 800.3,633.4 812.0,633.7 823.8,633.4 835.5,633.0 847.3,631.9 859.0,629.2 870.8,624.1 882.6,619.9 894.3,616.3 906.1,612.0 917.8,608.1 929.6,605.0 941.3,601.4 953.1,600.6 964.9,600.0 976.6,600.1 988.4,598.7 1000.1,598.6 1011.9,598.6 1023.7,599.3 1035.4,599.8 1047.2,599.7 1058.9,599.3 1070.7,598.5 1082.4,597.1 1094.2,595.2 1106.0,593.5 1117.7,592.1 1129.5,590.8 1141.2,589.7 1153.0,588.8 1164.7,588.0 1176.5,587.2" stroke="#999999"/>
<polyline points="788.5,634.0 800.3,635.4 812.0,637.9 823.8,639.8 835.5,640.8 847.3,639.0 859.0,636.2 870.8,634.3 882.6,629.8 894.3,626.3 906.1,622.2 917.8,620.1 929.6,617.1 941.3,614.7 953.1,610.3 964.9,608.7 976.6,606.7 988.4,608.4 1000.1,607.2 1011.9,607.3 1023.7,606.7 1035.4,606.1 1047.2,605.1 1058.9,603.9 1070.7,602.3 1082.4,600.4 1094.2,598.1 1106.0,596.0 1117.7,594.1 1129.5,592.4 1141.2,591.0 1153.0,589.9 1164.7,589.2 1176.5,588.5" stroke="#377eb8"/>
<polyline points="788.5,647.7 800.3,645.5 812.0,644.7 823.8,643.8 835.5,643.1 847.3,639.8 859.0,636.2 870.8,632.4 882.6,626.3 894.3,621.3 906.1,617.3 917.8,610.3 929.6,607.1 941.3,605.2 953.1,602.3 964.9,601.2 976.6,600.1 988.4,599.0 1000.1,598.6 1011.9,598.6 1023.7,598.6 1035.4,598.5 1047.2,598.3 1058.9,597.9 1070.7,597.3 1082.4,596.2 1094.2,594.8 1106.0,593.5 1117.7,592.4 1129.5,591.5 1141.2,591.0 1153.0,591.1 1164.7,591.7 1176.5,592.2" stroke="#a65628"/>
<polyline points="788.5,618.5 800.3,621.5 812.0,626.1 823.8,627.6 835.5,627.2 847.3,627.1 859.0,626.6 870.8,625.6 882.6,624.0 894.3,621.6 906.1,618.8 917.8,616.6 929.6,613.3 941.3,613.7 953.1,614.4 964.9,614.8 976.6,613.7 988.4,612.5 1000.1,612.4 1011.9,612.5 1023.7,612.6 1035.4,612.6 1047.2,611.9 1058.9,611.1 1070.7,609.9 1082.4,608.1 1094.2,605.8 1106.0,603.6 1117.7,601.1 1129.5,598.7 1141.2,597.3 1153.0,597.5 1164.7,598.6 1176.5,599.8" stroke="#ffff33"/>
<polyline points="788.5,616.2 800.3,620.2 812.0,624.9 823.8,628.7 835.5,630.3 847.3,628.1 859.0,627.2 870.8,626.2 882.6,624.9 894.3,622.5 906.1,620.4 917.8,615.9 929.6,613.2 941.3,611.9 953.1,610.3 964.9,609.6 976.6,610.0 988.4,607.9 1000.1,608.6 1011.9,608.6 1023.7,608.4 1035.4,607.5 1047.2,606.4 1058.9,605.2 1070.7,603.6 1082.4,601.3 1094.2,598.6 1106.0,596.0 1117.7,593.7 1129.5,591.6 1141.2,589.7 1153.0,588.3 1164.7,587.3 1176.5,586.2" stroke="#377eb8"/>
<polyline points="788.5,580.8 800.3,582.4 812.0,582.0 823.8,583.0 835.5,582.3 847.3,581.8 859.0,581.2 870.8,579.0 882.6,578.9 894.3,576.7 906.1,576.3 917.8,574.1 929.6,573.0 941.3,573.6 953.1,572.8 964.9,573.7 976.6,575.3 988.4,576.3 1000.1,576.9 1011.9,578.2 1023.7,580.3 1035.4,582.2 1047.2,584.0 1058.9,585.9 1070.7,587.2 1082.4,587.6 1094.2,587.5 1106.0,587.2 1117.7,586.2 1129.5,585.1 1141.2,585.9 1153.0,590.1 1164.7,596.2 1176.5,602.3" stroke="#e41a1c"/>
<polyline points="788.5,583.4 800.3,586.2 812.0,587.8 823.8,589.9 835.5,590.5 847.3,592.4 859.0,590.8 870.8,589.9 882.6,585.2 894.3,583.3 906.1,580.8 917.8,578.2 929.6,575.7 941.3,574.0 953.1,572.9 964.9,573.1 976.6,574.1 988.4,574.3 1000.1,577.0 1011.9,578.7 1023.7,581.4 1035.4,583.4 1047.2,585.4 1058.9,587.2 1070.7,588.5 1082.4,588.9 1094.2,588.7 1106.0,588.5 1117.7,587.5 1129.5,586.3 1141.2,587.2 1153.0,591.3 1164.7,597.5 1176.5,603.6" stroke="#4daf4a"/>
</g>
<rect x="788.50" y="462.40" width="388.00" height="252.10" fill="none" stroke="#000" stroke-width="1.15"/>
<path d="M788.50 714.50v3.4M823.77 714.50v3.4M859.05 714.50v3.4M894.32 714.50v3.4M929.59 714.50v3.4M964.86 714.50v3.4M1000.14 714.50v3.4M1035.41 714.50v3.4M1070.68 714.50v3.4M1105.95 714.50v3.4M1141.23 714.50v3.4M1176.50 714.50v3.4M788.50 462.40h-4.4M788.50 487.61h-4.4M788.50 512.82h-4.4M788.50 538.03h-4.4M788.50 563.24h-4.4M788.50 588.45h-4.4M788.50 613.66h-4.4M788.50 638.87h-4.4M788.50 664.08h-4.4M788.50 689.29h-4.4M788.50 714.50h-4.4" stroke="#000" stroke-width="1.05" fill="none"/>
<text class="tk" x="780.6" y="467.1" font-size="11.85" text-anchor="end">2.505</text>
<text class="tk" x="780.6" y="492.3" font-size="11.85" text-anchor="end">2.504</text>
<text class="tk" x="780.6" y="517.5" font-size="11.85" text-anchor="end">2.503</text>
<text class="tk" x="780.6" y="542.7" font-size="11.85" text-anchor="end">2.502</text>
<text class="tk" x="780.6" y="567.9" font-size="11.85" text-anchor="end">2.501</text>
<text class="tk" x="780.6" y="593.1" font-size="11.85" text-anchor="end">2.500</text>
<text class="tk" x="780.6" y="618.4" font-size="11.85" text-anchor="end">2.499</text>
<text class="tk" x="780.6" y="643.6" font-size="11.85" text-anchor="end">2.498</text>
<text class="tk" x="780.6" y="668.8" font-size="11.85" text-anchor="end">2.497</text>
<text class="tk" x="780.6" y="694.0" font-size="11.85" text-anchor="end">2.496</text>
<text class="tk" x="780.6" y="719.2" font-size="11.85" text-anchor="end">2.495</text>
<text class="tk" x="788.5" y="731.5" font-size="11.85" text-anchor="middle">−40</text>
<text class="tk" x="823.8" y="731.5" font-size="11.85" text-anchor="middle">−25</text>
<text class="tk" x="859.0" y="731.5" font-size="11.85" text-anchor="middle">−10</text>
<text class="tk" x="894.3" y="731.5" font-size="11.85" text-anchor="middle">5</text>
<text class="tk" x="929.6" y="731.5" font-size="11.85" text-anchor="middle">20</text>
<text class="tk" x="964.9" y="731.5" font-size="11.85" text-anchor="middle">35</text>
<text class="tk" x="1000.1" y="731.5" font-size="11.85" text-anchor="middle">50</text>
<text class="tk" x="1035.4" y="731.5" font-size="11.85" text-anchor="middle">65</text>
<text class="tk" x="1070.7" y="731.5" font-size="11.85" text-anchor="middle">80</text>
<text class="tk" x="1106.0" y="731.5" font-size="11.85" text-anchor="middle">95</text>
<text class="tk" x="1141.2" y="731.5" font-size="11.85" text-anchor="middle">110</text>
<text class="tk" x="1176.5" y="731.5" font-size="11.85" text-anchor="middle">125</text>
<text class="ax" x="982.5" y="748.5" font-size="14.0" text-anchor="middle">Temperature (°C)</text>
<text class="ax" transform="translate(739.4,588.5) rotate(-90)" font-size="14.0" text-anchor="middle">Output Voltage (V)</text>
</g>
<path d="M1274.30 369.50H1680.60M1274.30 336.50H1680.60M1274.30 303.50H1680.60M1274.30 270.50H1680.60" stroke="#4a413f" stroke-width="1" fill="none"/>
<path d="M1274.30 237.20H1680.60M1274.30 204.20H1680.60M1274.30 171.20H1680.60M1274.30 138.20H1680.60" stroke="#857b78" stroke-width="1.3" fill="none"/>
<rect x="1310.08" y="140.18" width="48.76" height="262.02" fill="#808081" stroke="#0a0a0a" stroke-width="1.35"/>
<rect x="1358.84" y="245.12" width="48.76" height="157.08" fill="#808081" stroke="#0a0a0a" stroke-width="1.35"/>
<rect x="1407.60" y="307.16" width="48.76" height="95.04" fill="#808081" stroke="#0a0a0a" stroke-width="1.35"/>
<rect x="1456.35" y="307.16" width="48.76" height="95.04" fill="#808081" stroke="#0a0a0a" stroke-width="1.35"/>
<rect x="1505.11" y="381.08" width="48.76" height="21.12" fill="#808081" stroke="#0a0a0a" stroke-width="1.35"/>
<rect x="1553.86" y="371.18" width="48.76" height="31.02" fill="#808081" stroke="#0a0a0a" stroke-width="1.35"/>
<rect x="1602.62" y="391.44" width="48.76" height="10.76" fill="#808081" stroke="#0a0a0a" stroke-width="1.35"/>
<rect x="1274.30" y="138.20" width="406.30" height="264.00" fill="none" stroke="#000" stroke-width="1.05"/>
<path d="M1274.30 402.20v4.4M1332.34 402.20v4.4M1390.39 402.20v4.4M1448.43 402.20v4.4M1506.47 402.20v4.4M1564.51 402.20v4.4M1622.56 402.20v4.4M1680.60 402.20v4.4M1274.30 402.20h-4.4M1274.30 369.20h-4.4M1274.30 336.20h-4.4M1274.30 303.20h-4.4M1274.30 270.20h-4.4M1274.30 237.20h-4.4M1274.30 204.20h-4.4M1274.30 171.20h-4.4M1274.30 138.20h-4.4" stroke="#000" stroke-width="1.05" fill="none"/>
<text class="tk" x="1266.3" y="407.0" font-size="12.8" text-anchor="end">0</text>
<text class="tk" x="1266.3" y="374.0" font-size="12.8" text-anchor="end">5</text>
<text class="tk" x="1266.3" y="341.0" font-size="12.8" text-anchor="end">10</text>
<text class="tk" x="1266.3" y="308.0" font-size="12.8" text-anchor="end">15</text>
<text class="tk" x="1266.3" y="275.0" font-size="12.8" text-anchor="end">20</text>
<text class="tk" x="1266.3" y="242.0" font-size="12.8" text-anchor="end">25</text>
<text class="tk" x="1266.3" y="209.0" font-size="12.8" text-anchor="end">30</text>
<text class="tk" x="1266.3" y="176.0" font-size="12.8" text-anchor="end">35</text>
<text class="tk" x="1266.3" y="143.0" font-size="12.8" text-anchor="end">40</text>
<text class="tk" x="1274.3" y="420.0" font-size="12.3" text-anchor="middle">0</text>
<text class="tk" x="1332.3" y="420.0" font-size="12.3" text-anchor="middle">2</text>
<text class="tk" x="1390.4" y="420.0" font-size="12.3" text-anchor="middle">4</text>
<text class="tk" x="1448.4" y="420.0" font-size="12.3" text-anchor="middle">6</text>
<text class="tk" x="1506.5" y="420.0" font-size="12.3" text-anchor="middle">8</text>
<text class="tk" x="1564.5" y="420.0" font-size="12.3" text-anchor="middle">10</text>
<text class="tk" x="1622.6" y="420.0" font-size="12.3" text-anchor="middle">12</text>
<text class="tk" x="1680.6" y="420.0" font-size="12.3" text-anchor="middle">14</text>
<text class="ax" x="1477.4" y="438.4" font-size="14.6" text-anchor="middle">Temperature Coefficient (ppm/°C)</text>
<text class="ax" transform="translate(1242.8,270.2) rotate(-90)" font-size="14.6" text-anchor="middle">Population (%)</text>
<path d="M1274.50 683.50H1680.60M1274.50 639.50H1680.60M1274.50 595.50H1680.60M1274.50 551.50H1680.60M1274.50 507.50H1680.60M1274.50 463.50H1680.60" stroke="#4a413f" stroke-width="1" fill="none"/>
<rect x="1276.89" y="540.60" width="44.80" height="186.70" fill="#808081" stroke="#0a0a0a" stroke-width="1.35"/>
<rect x="1321.69" y="510.22" width="44.80" height="217.08" fill="#808081" stroke="#0a0a0a" stroke-width="1.35"/>
<rect x="1366.50" y="549.41" width="44.80" height="177.89" fill="#808081" stroke="#0a0a0a" stroke-width="1.35"/>
<rect x="1411.30" y="610.17" width="44.80" height="117.13" fill="#808081" stroke="#0a0a0a" stroke-width="1.35"/>
<rect x="1456.10" y="665.65" width="44.80" height="61.65" fill="#808081" stroke="#0a0a0a" stroke-width="1.35"/>
<rect x="1500.90" y="709.95" width="44.80" height="17.35" fill="#808081" stroke="#0a0a0a" stroke-width="1.35"/>
<rect x="1545.70" y="709.95" width="44.80" height="17.35" fill="#808081" stroke="#0a0a0a" stroke-width="1.35"/>
<rect x="1274.50" y="463.10" width="406.10" height="264.20" fill="none" stroke="#000" stroke-width="1.05"/>
<path d="M1274.50 727.30v4.4M1319.62 727.30v4.4M1364.74 727.30v4.4M1409.87 727.30v4.4M1454.99 727.30v4.4M1500.11 727.30v4.4M1545.23 727.30v4.4M1590.36 727.30v4.4M1635.48 727.30v4.4M1680.60 727.30v4.4M1274.50 727.30h-4.4M1274.50 683.27h-4.4M1274.50 639.23h-4.4M1274.50 595.20h-4.4M1274.50 551.17h-4.4M1274.50 507.13h-4.4M1274.50 463.10h-4.4" stroke="#000" stroke-width="1.05" fill="none"/>
<text class="tk" x="1266.5" y="732.1" font-size="12.8" text-anchor="end">0</text>
<text class="tk" x="1266.5" y="688.1" font-size="12.8" text-anchor="end">5</text>
<text class="tk" x="1266.5" y="644.0" font-size="12.8" text-anchor="end">10</text>
<text class="tk" x="1266.5" y="600.0" font-size="12.8" text-anchor="end">15</text>
<text class="tk" x="1266.5" y="556.0" font-size="12.8" text-anchor="end">20</text>
<text class="tk" x="1266.5" y="511.9" font-size="12.8" text-anchor="end">25</text>
<text class="tk" x="1266.5" y="467.9" font-size="12.8" text-anchor="end">30</text>
<text class="tk" x="1274.5" y="745.1" font-size="12.3" text-anchor="middle">1</text>
<text class="tk" x="1319.6" y="745.1" font-size="12.3" text-anchor="middle">2</text>
<text class="tk" x="1364.7" y="745.1" font-size="12.3" text-anchor="middle">3</text>
<text class="tk" x="1409.9" y="745.1" font-size="12.3" text-anchor="middle">4</text>
<text class="tk" x="1455.0" y="745.1" font-size="12.3" text-anchor="middle">5</text>
<text class="tk" x="1500.1" y="745.1" font-size="12.3" text-anchor="middle">6</text>
<text class="tk" x="1545.2" y="745.1" font-size="12.3" text-anchor="middle">7</text>
<text class="tk" x="1590.4" y="745.1" font-size="12.3" text-anchor="middle">8</text>
<text class="tk" x="1635.5" y="745.1" font-size="12.3" text-anchor="middle">9</text>
<text class="tk" x="1680.6" y="745.1" font-size="12.3" text-anchor="middle">10</text>
<text class="ax" x="1477.5" y="763.4" font-size="14.6" text-anchor="middle">Temperature Coefficient (ppm/°C)</text>
<text class="ax" transform="translate(1242.8,595.2) rotate(-90)" font-size="14.6" text-anchor="middle">Population (%)</text>
</svg>
<svg width="1745" height="826" viewBox="0 0 1745 826" style="pointer-events:none">
<g fill="#9b9b9b" fill-opacity="0.1">
<polygon points="120.2,749.2 239.6,438.6 313.1,539.8 232.1,728.9"/>
<polygon points="251.8,419.9 307.8,409.3 425,518.5 478.3,380 585.9,361.3 486.3,651.7 441,659.7"/>
</g>
<g fill="#9b9b9b" fill-opacity="0.085" font-family="'Liberation Sans','Noto Sans CJK SC',sans-serif" font-weight="bold">
<text transform="translate(633,486) rotate(-9.9)" font-size="146" textLength="934" lengthAdjust="spacingAndGlyphs">NOVOSENSE</text>
<text transform="translate(660,664) rotate(-9.9)" font-size="172" letter-spacing="14" font-weight="700">纳芯微电子</text>
</g></svg>
</body>
</html>
